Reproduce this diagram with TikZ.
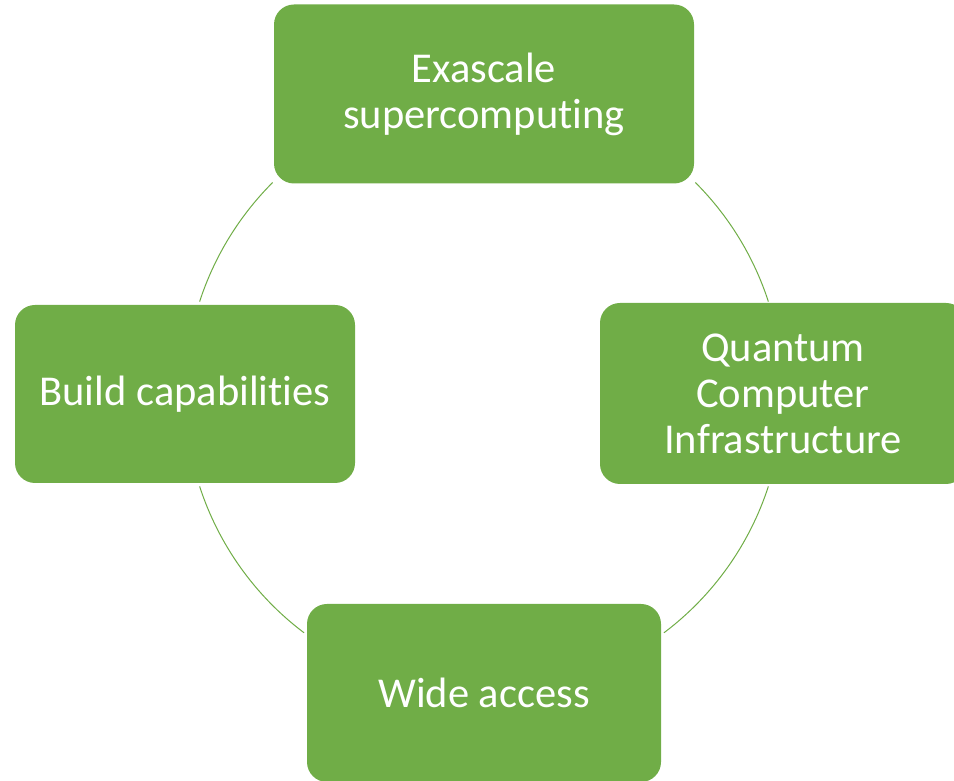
\documentclass[tikz,border=0pt]{standalone}
\usepackage{fontspec}
\setmainfont{Carlito}[Ligatures=NoCommon]
\usetikzlibrary{calc}
\definecolor{leafgreen}{HTML}{70AD47}
\tikzset{
    stage/.style={rectangle, rounded corners=20pt, fill=leafgreen, text=white,
        inner sep=0pt, align=center, font=\fontsize{42.5}{46}\selectfont},
    ring/.style={draw=leafgreen, line width=1pt}
}

\begin{document}
\begin{tikzpicture}[x=1pt,y=1pt]
    \useasboundingbox (0,0) rectangle (954,781);
    \coordinate (c) at (484,387);
    \node[stage, minimum width=420pt, minimum height=179pt] at (484,687) (exa) {Exascale\\supercomputing};
    \node[stage, minimum width=340pt, minimum height=178pt] at (185,387) (build) {Build capabilities};
    \node[stage, minimum width=366pt, minimum height=181pt] at (783,387.5) (quantum) {Quantum\\Computer\\Infrastructure};
    \node[stage, minimum width=354pt, minimum height=178pt] at (484,88) (wide) {Wide access};
    \draw[ring] ($(c)+(135:299)$) arc (135:162:299);
    \draw[ring] ($(c)+(18:299)$) arc (18:45:299);
    \draw[ring] ($(c)+(-53:299)$) arc (-53:-18:299);
    \draw[ring] ($(c)+(198:299)$) arc (198:233:299);
\end{tikzpicture}
\end{document}
